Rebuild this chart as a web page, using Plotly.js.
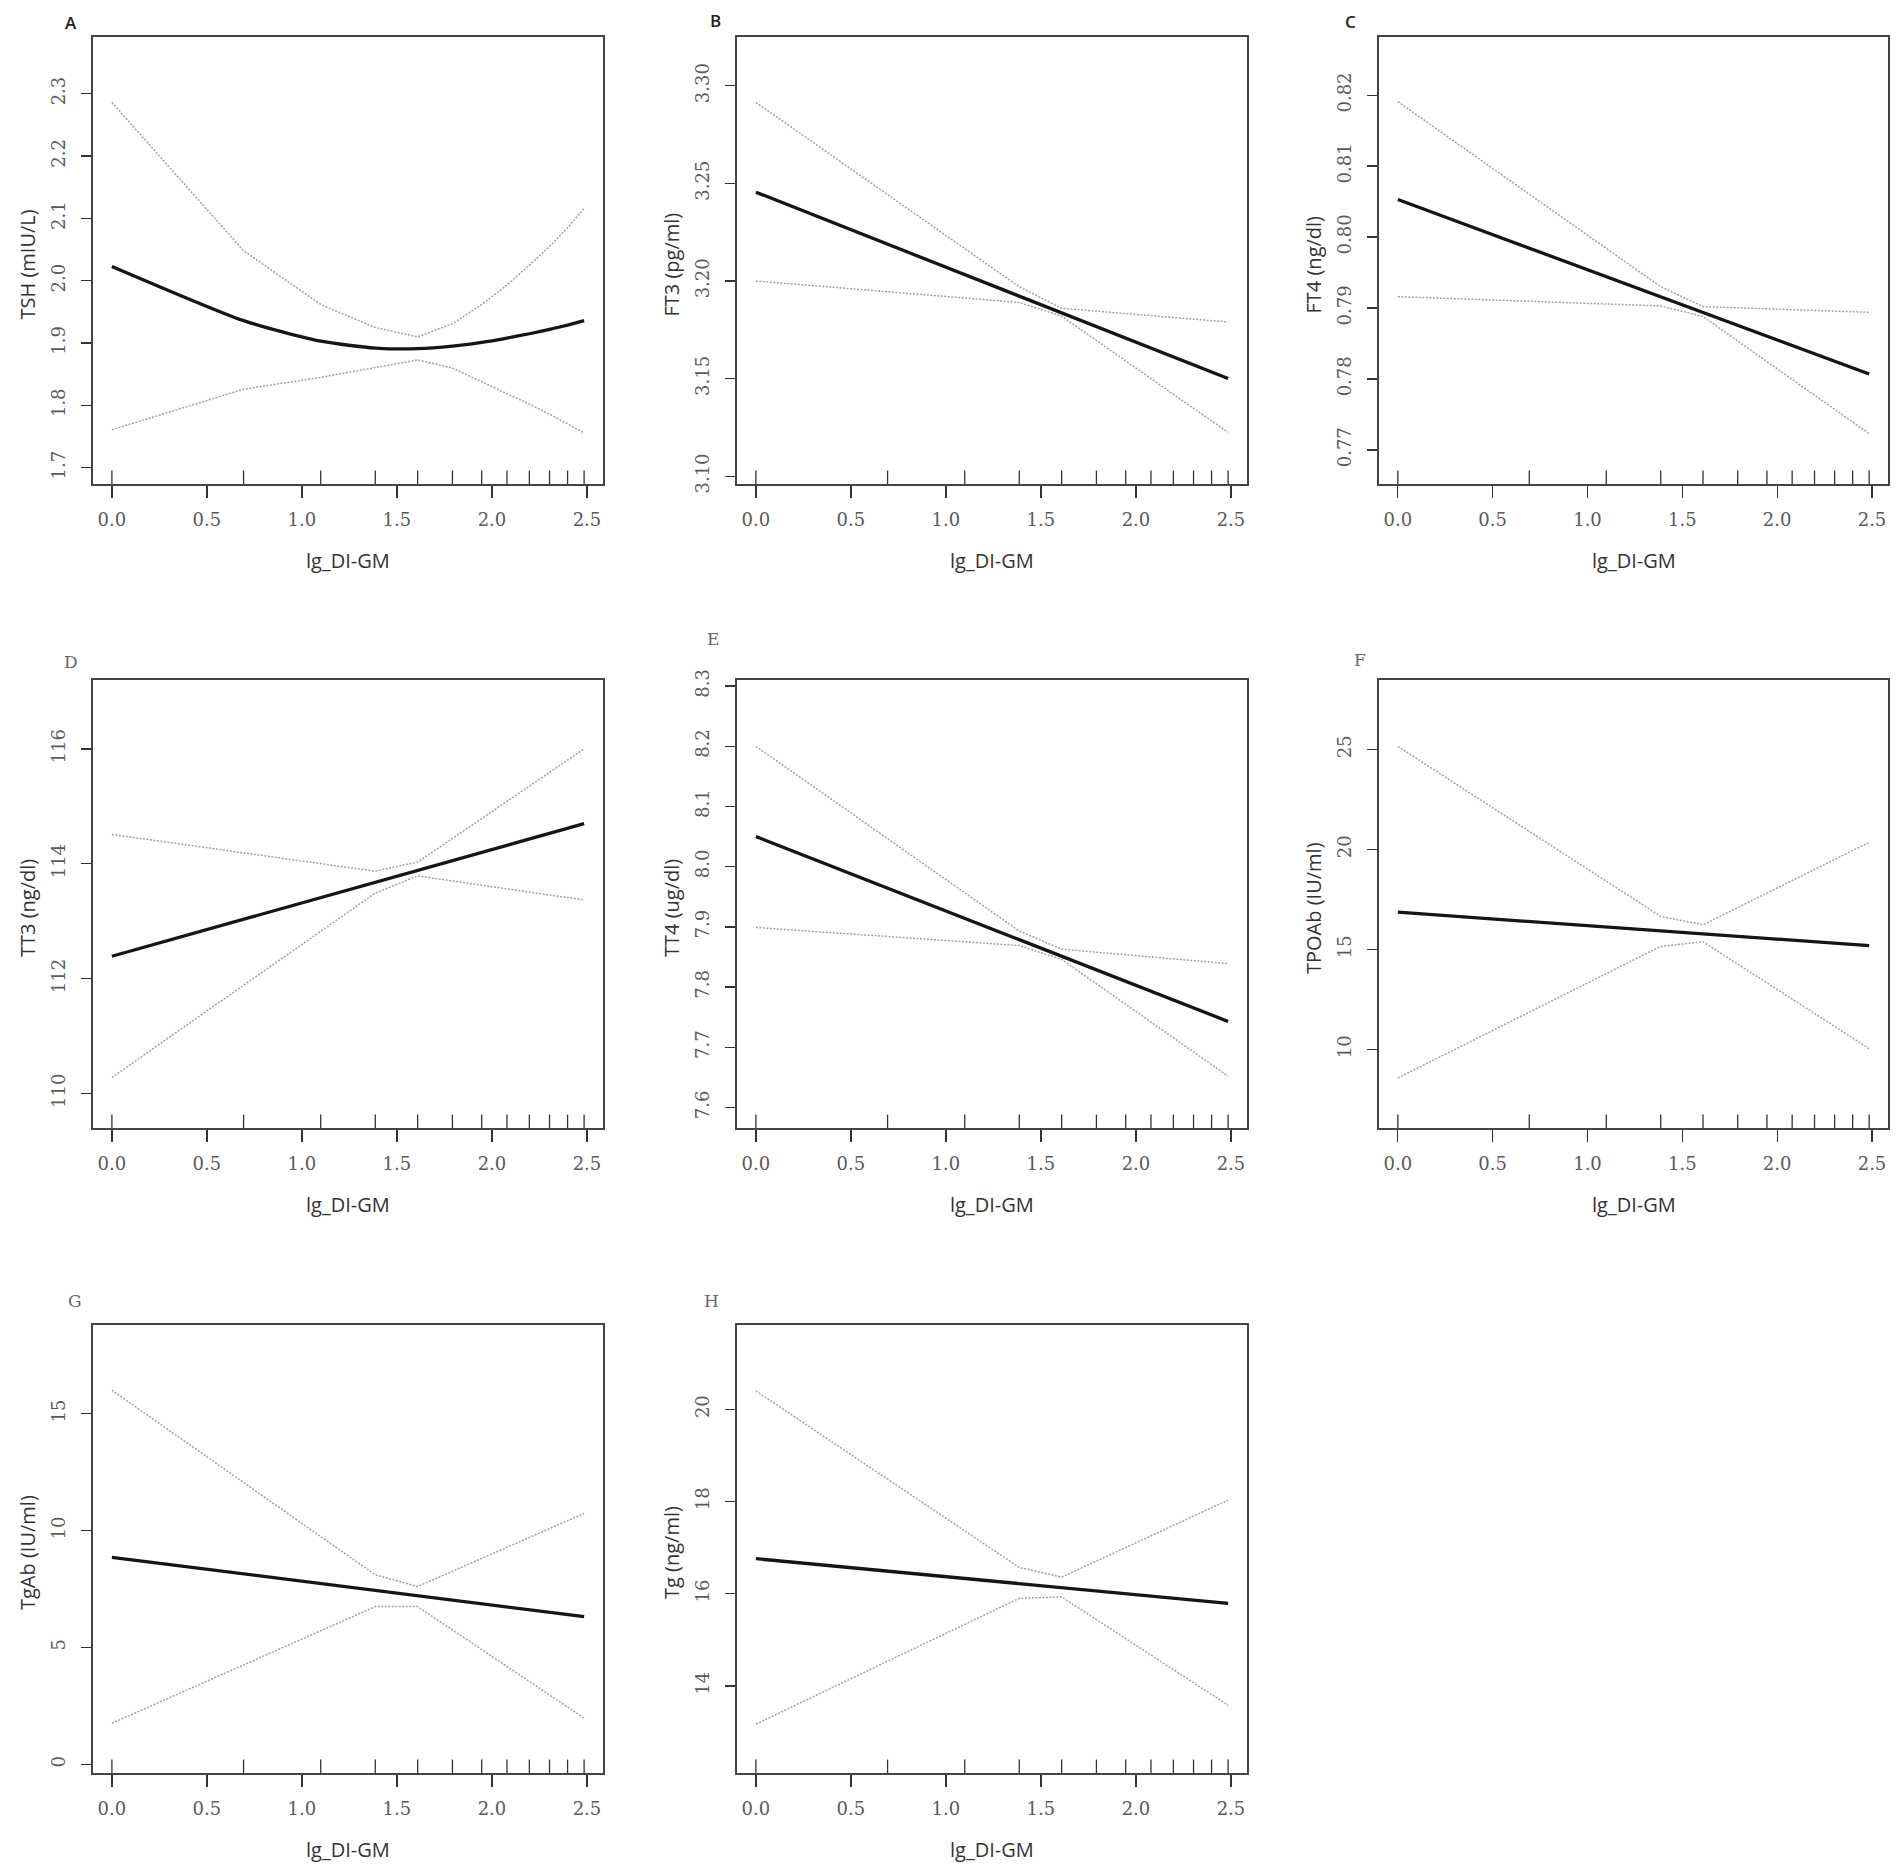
<!DOCTYPE html>
<html>
<head>
<meta charset="utf-8">
<script src="https://cdn.plot.ly/plotly-3.0.1.min.js"></script>
<style>body{margin:0;background:#fff}</style>
</head>
<body>
<div id="chart" style="width:1902px;height:1871px"></div>
<script>
// observed DI-GM scores 1..12 on the log scale (rug)
var rugX = [0, 0.693, 1.099, 1.386, 1.609, 1.792, 1.946, 2.079, 2.197, 2.303, 2.398, 2.485];
var knotX = [0, 1.386, 1.609, 2.485];
var xTicks = [0, 0.5, 1.0, 1.5, 2.0, 2.5];

// A - TSH
var tshX     = [0, 0.693, 1.099, 1.386, 1.609, 1.792, 1.946, 2.079, 2.197, 2.303, 2.398, 2.485];
var tshFit   = [2.023, 1.936, 1.903, 1.892, 1.891, 1.895, 1.901, 1.908, 1.915, 1.922, 1.929, 1.936];
var tshUpper = [2.286, 2.048, 1.962, 1.925, 1.910, 1.931, 1.962, 1.993, 2.025, 2.055, 2.085, 2.116];
var tshLower = [1.761, 1.826, 1.845, 1.861, 1.873, 1.860, 1.838, 1.820, 1.802, 1.786, 1.770, 1.756];

// B - FT3
var ft3Fit   = [3.2455, 3.1922, 3.1837, 3.1500];
var ft3Upper = [3.2915, 3.1970, 3.1860, 3.1790];
var ft3Lower = [3.2000, 3.1890, 3.1820, 3.1224];

// C - FT4
var ft4Fit   = [0.8053, 0.7916, 0.7894, 0.7807];
var ft4Upper = [0.8191, 0.7930, 0.7902, 0.7894];
var ft4Lower = [0.7916, 0.7903, 0.7888, 0.7723];

// D - TT3
var tt3Fit   = [112.39, 113.68, 113.89, 114.70];
var tt3Upper = [114.51, 113.87, 114.03, 116.00];
var tt3Lower = [110.28, 113.49, 113.79, 113.37];

// E - TT4
var tt4Fit   = [8.050, 7.879, 7.851, 7.743];
var tt4Upper = [8.200, 7.893, 7.863, 7.839];
var tt4Lower = [7.899, 7.869, 7.846, 7.652];

// F - TPOAb
var tpoFit   = [16.86, 15.93, 15.78, 15.19];
var tpoUpper = [25.15, 16.65, 16.23, 20.35];
var tpoLower = [8.57, 15.15, 15.38, 10.04];

// G - TgAb
var tgabFit   = [8.86, 7.44, 7.21, 6.32];
var tgabUpper = [16.01, 8.11, 7.61, 10.74];
var tgabLower = [1.76, 6.75, 6.75, 1.98];

// H - Tg
var tgFit   = [16.76, 16.22, 16.13, 15.79];
var tgUpper = [20.40, 16.57, 16.36, 18.03];
var tgLower = [13.17, 15.90, 15.93, 13.58];

var W = 1902, H = 1871;
var cols = [[93, 603], [737, 1247], [1379, 1888]];
var rows = [[37, 484], [680, 1128], [1325, 1773]];

var panels = [
    {label:"A", serif:false, yTitle:"TSH (mIU/L)", x:tshX, fit:tshFit, up:tshUpper, lo:tshLower, yr:[1.674, 2.391], t0:1.7, dt:0.1, fmt:".1f", lab:[-22, 15]},
    {label:"B", serif:false, yTitle:"FT3 (pg/ml)", x:knotX, fit:ft3Fit, up:ft3Upper, lo:ft3Lower, yr:[3.096, 3.325], t0:3.1, dt:0.05, fmt:".2f", lab:[-22, 17]},
    {label:"C", serif:false, yTitle:"FT4 (ng/dl)", x:knotX, fit:ft4Fit, up:ft4Upper, lo:ft4Lower, yr:[0.7652, 0.8282], t0:0.77, dt:0.01, fmt:".2f", lab:[-29, 16]},
    {label:"D", serif:true, yTitle:"TT3 (ng/dl)", x:knotX, fit:tt3Fit, up:tt3Upper, lo:tt3Lower, yr:[109.40, 117.20], t0:110, dt:2, fmt:"d", lab:[-22, 18]},
    {label:"E", serif:true, yTitle:"TT4 (ug/dl)", x:knotX, fit:tt4Fit, up:tt4Upper, lo:tt4Lower, yr:[7.566, 8.310], t0:7.6, dt:0.1, fmt:".1f", lab:[-24, 41]},
    {label:"F", serif:true, yTitle:"TPOAb (IU/ml)", x:knotX, fit:tpoFit, up:tpoUpper, lo:tpoLower, yr:[6.07, 28.47], t0:10, dt:5, fmt:"d", lab:[-19, 20]},
    {label:"G", serif:true, yTitle:"TgAb (IU/ml)", x:knotX, fit:tgabFit, up:tgabUpper, lo:tgabLower, yr:[-0.37, 18.80], t0:0, dt:5, fmt:"d", lab:[-18, 24]},
    {label:"H", serif:true, yTitle:"Tg (ng/ml)", x:knotX, fit:tgFit, up:tgUpper, lo:tgLower, yr:[12.11, 21.83], t0:14, dt:2, fmt:"d", lab:[-26, 24]}
];

var tickFont = {family:"DejaVu Serif", size:18, color:"#5a5a5a"};
var titleFont = {family:"Open Sans", size:20, color:"#333"};

var data = [];
var layout = {
    width: W, height: H,
    margin: {l:0, r:0, t:0, b:0},
    paper_bgcolor: "#fff", plot_bgcolor: "#fff",
    showlegend: false,
    annotations: [], shapes: []
};

panels.forEach(function(p, i){
    var n = i === 0 ? "" : String(i + 1);
    var c = cols[i % 3], r = rows[Math.floor(i / 3)];
    var xa = "x" + n, ya = "y" + n;

    var ciLine = {color:"#a2a2a2", width:1.5, dash:"2px,1.5px"};
    data.push({x:p.x, y:p.up, xaxis:xa, yaxis:ya, mode:"lines", line:ciLine, hoverinfo:"skip"});
    data.push({x:p.x, y:p.lo, xaxis:xa, yaxis:ya, mode:"lines", line:ciLine, hoverinfo:"skip"});
    data.push({x:p.x, y:p.fit, xaxis:xa, yaxis:ya, mode:"lines",
        line:{color:"#151515", width:3.3, shape: i === 0 ? "spline" : "linear", smoothing:0.6}, hoverinfo:"skip"});

    layout["xaxis" + n] = {
        domain: [c[0] / W, c[1] / W], anchor: ya,
        range: [-0.0994, 2.5844], tickvals: xTicks, tickformat: ".1f",
        ticks: "outside", ticklen: 12, tickwidth: 1.3, tickcolor: "#333",
        ticklabelstandoff: 7,
        showline: true, linecolor: "#444", linewidth: 1.6, mirror: true,
        showgrid: false, zeroline: false, tickfont: tickFont
    };
    layout["yaxis" + n] = {
        domain: [1 - r[1] / H, 1 - r[0] / H], anchor: xa,
        range: p.yr, tickmode: "linear", tick0: p.t0, dtick: p.dt, tickformat: p.fmt,
        tickangle: -90, ticks: "outside", ticklen: 10, tickwidth: 1.3, tickcolor: "#333",
        ticklabelstandoff: 9,
        showline: true, linecolor: "#444", linewidth: 1.6, mirror: true,
        showgrid: false, zeroline: false, tickfont: tickFont
    };

    rugX.forEach(function(v){
        layout.shapes.push({type:"line", xref:xa, yref:ya + " domain", x0:v, x1:v, y0:0, y1:0.03,
            line:{color:"#333", width:1.3}});
    });

    layout.annotations.push({
        text: p.label, xref: xa + " domain", yref: ya + " domain", x: 0, y: 1,
        xshift: p.lab[0], yshift: p.lab[1], showarrow: false, xanchor: "center", yanchor: "middle",
        font: p.serif ? {family:"DejaVu Serif", size:17, color:"#666"} : {family:"Open Sans", size:17, color:"#222", weight:600}
    });
    layout.annotations.push({
        text: p.yTitle, xref: xa + " domain", yref: ya + " domain", x: 0, y: 0.5,
        xshift: -66, yshift: -4, showarrow: false, xanchor: "center", yanchor: "middle", textangle: -90,
        font: titleFont
    });
    layout.annotations.push({
        text: "lg_DI-GM", xref: xa + " domain", yref: ya + " domain", x: 0.5, y: 0,
        yshift: -76, showarrow: false, xanchor: "center", yanchor: "middle",
        font: titleFont
    });
});

Plotly.newPlot("chart", data, layout, {staticPlot: true});
</script>
</body>
</html>
